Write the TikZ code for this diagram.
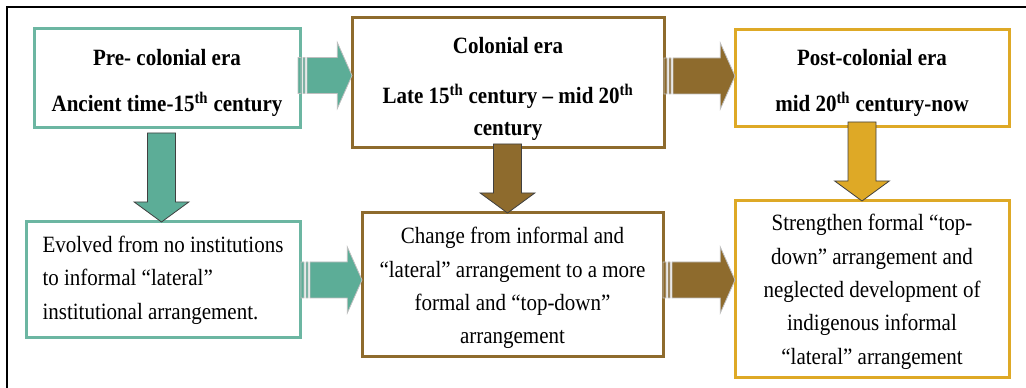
\documentclass[tikz,border=0pt]{standalone}
\usepackage{fontspec}
\setmainfont{Liberation Serif}[FakeStretch=0.9]
\usepackage{tikz}
\usetikzlibrary{calc}

\definecolor{pregreen}{RGB}{92,173,151}
\definecolor{preline}{RGB}{108,182,162}
\definecolor{colbrown}{RGB}{142,107,45}
\definecolor{postgold}{RGB}{222,169,38}

% fat arrow to the right: start, tip, colour
\newcommand\rightblock[3]{%
  \filldraw[fill=#3, draw=black!25, line width=0.6pt] let \p1=(#1), \p2=(#2) in
    (\x1,\y1+13.5pt) rectangle (\x1+2.25pt,\y1-13.5pt)
    (\x1+3.75pt,\y1+13.5pt) rectangle (\x1+5.25pt,\y1-13.5pt)
    (\x1+6.75pt,\y1+13.5pt) -- (\x2-11pt,\y1+13.5pt) -- (\x2-11pt,\y1+24.75pt)
    -- (\x2,\y1) -- (\x2-11pt,\y1-24.75pt) -- (\x2-11pt,\y1-13.5pt)
    -- (\x1+6.75pt,\y1-13.5pt) -- cycle;}
% fat arrow downwards: start, tip, colour
\newcommand\downblock[3]{%
  \filldraw[fill=#3, draw=black!75, line width=0.6pt] let \p1=(#1), \p2=(#2) in
    (\x1-10.5pt,\y1) -- (\x1+10.5pt,\y1) -- (\x1+10.5pt,\y2+15pt)
    -- (\x1+20.5pt,\y2+15pt) -- (\x1,\y2) -- (\x1-20.5pt,\y2+15pt)
    -- (\x1-10.5pt,\y2+15pt) -- cycle;}

\begin{document}
\begin{tikzpicture}[x=0.75pt, y=-0.75pt,
    font=\fontsize{17.5}{25}\selectfont,
    era/.style={draw=#1, line width=2.25pt, fill=white, outer sep=0pt,
                align=center, font=\fontsize{17.5}{24}\selectfont\bfseries},
    effect/.style={draw=#1, line width=2.25pt, fill=white, outer sep=0pt}]
\path[use as bounding box, clip] (0,0) rectangle (1026,388);
\draw[line width=1.1pt] (7,7) rectangle (1040,400);

\node[era=preline, minimum width=199.5pt, minimum height=74.25pt] (pre) at (167,78.5)
    {\rule{0pt}{19pt}Pre- colonial era\\[11pt]Ancient time-15\textsuperscript{th} century};
\node[era=colbrown, minimum width=234pt, minimum height=97.5pt] (col) at (508,83)
    {\rule{0pt}{21pt}Colonial era\\[14pt]Late 15\textsuperscript{th} century – mid 20\textsuperscript{th}\\century};
\node[era=postgold, minimum width=205.5pt, minimum height=72.75pt] (post) at (872,78.5)
    {\rule{0pt}{19pt}Post-colonial era\\[11pt]mid 20\textsuperscript{th} century-now};

\node[effect=preline, align=left, minimum width=205.5pt, minimum height=87pt] (preres) at (163,280)
    {Evolved from no institutions\\to informal “lateral”\\institutional arrangement.};
\node[effect=colbrown, align=center, minimum width=225.75pt, minimum height=108pt] (colres) at (512.5,285)
    {\rule{0pt}{17pt}Change from informal and\\“lateral” arrangement to a more\\formal and “top-down”\\arrangement};
\node[effect=postgold, align=center, minimum width=205.5pt, minimum height=132.75pt] (postres) at (872,289.5)
    {\rule{0pt}{16pt}Strengthen formal “top-\\down” arrangement and\\neglected development of\\indigenous informal\\“lateral” arrangement};

\rightblock{[shift={(-2,-3)}]pre.east}{col.west}{pregreen}
\rightblock{[shift={(0,-7)}]col.east}{post.west}{colbrown}
\rightblock{[shift={(1,0)}]preres.east}{colres.west}{pregreen}
\rightblock{[shift={(0,-5)}]colres.east}{postres.west}{colbrown}

\downblock{[shift={(-5.5,5)}]pre.south}{preres.north}{pregreen}
\downblock{[shift={(-0.5,-4)}]col.south}{colres.north}{colbrown}
\downblock{[shift={(-10,-5)}]post.south}{postres.north}{postgold}
\end{tikzpicture}
\end{document}
